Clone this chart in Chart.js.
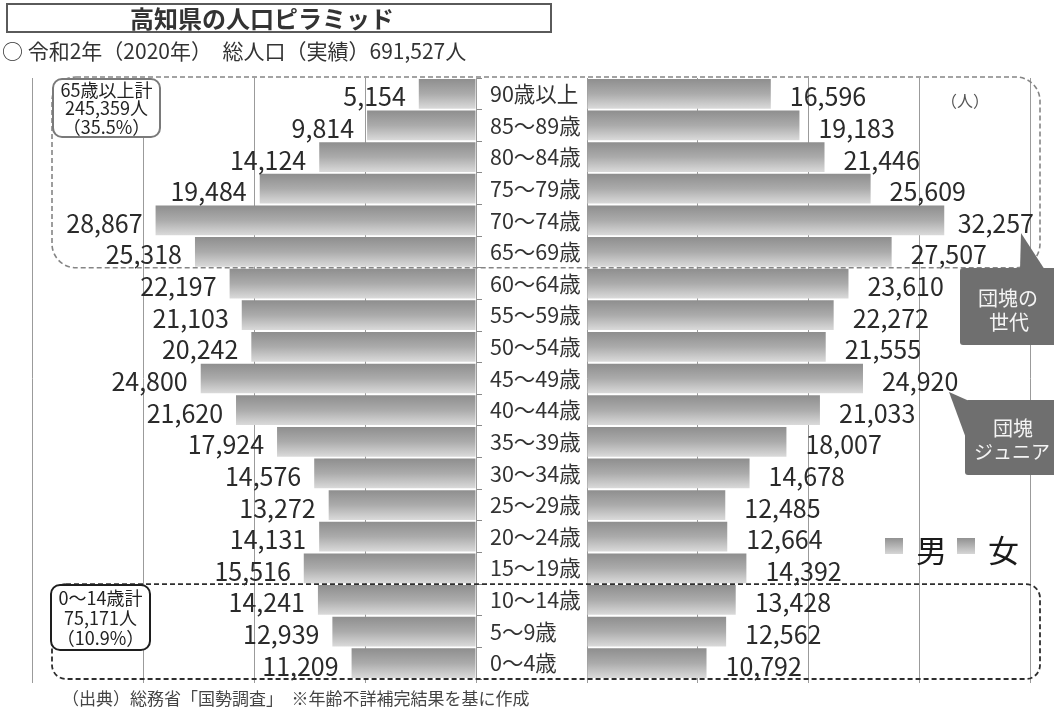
<!DOCTYPE html>
<html lang="ja">
<head>
<meta charset="utf-8">
<title>高知県の人口ピラミッド</title>
<script src="https://cdn.jsdelivr.net/npm/chart.js@4.4.1/dist/chart.umd.min.js"></script>
<style>
  html, body { margin: 0; padding: 0; background: #fff; }
  #page { position: relative; width: 1054px; height: 710px; overflow: hidden;
          font-family: "Noto Sans CJK JP", sans-serif; color: #333; }
  #page canvas { position: absolute; left: 0; top: 0; }
  #title { position: absolute; left: 6px; top: 3px; width: 542px; height: 26px;
           border: 2px solid #5a5a5a; background: #fff; }
  #title span { position: absolute; left: 122px; top: -2px; line-height: 30px;
                font-size: 24px; font-weight: bold; color: #333; white-space: nowrap; }
  #subtitle { position: absolute; left: 2px; top: 35px; line-height: 30px;
              font-size: 21px; color: #333; white-space: pre; }
  #source { position: absolute; left: 62px; top: 687px; line-height: 22px;
            font-size: 17px; color: #444; white-space: pre; }
</style>
</head>
<body>
<div id="page">
  <canvas id="maleChart" width="1054" height="710"></canvas>
  <canvas id="femaleChart" width="1054" height="710"></canvas>
  <div id="title"><span>高知県の人口ピラミッド</span></div>
  <div id="subtitle">○ 令和2年（2020年）　総人口（実績）691,527人</div>
  <div id="source">（出典）総務省「国勢調査」　※年齢不詳補完結果を基に作成</div>
</div>
<script>
// 年齢階級（上から下へ）
const ageGroups = ['90歳以上', '85～89歳', '80～84歳', '75～79歳', '70～74歳', '65～69歳',
  '60～64歳', '55～59歳', '50～54歳', '45～49歳', '40～44歳', '35～39歳', '30～34歳',
  '25～29歳', '20～24歳', '15～19歳', '10～14歳', '5～9歳', '0～4歳'];

// 男女別人口（人）
const malePop = [5154, 9814, 14124, 19484, 28867, 25318, 22197, 21103, 20242, 24800,
  21620, 17924, 14576, 13272, 14131, 15516, 14241, 12939, 11209];
const femalePop = [16596, 19183, 21446, 25609, 32257, 27507, 23610, 22272, 21555, 24920,
  21033, 18007, 14678, 12485, 12664, 14392, 13428, 12562, 10792];

const seriesNames = ['男', '女'];
const axisMax = 40000;
const axisStep = 10000;
const unitLabel = '（人）';

// 囲み注記のテキスト
const elderlyNote = ['65歳以上計', '245,359人', '（35.5%）'];
const childNote = ['0～14歳計', '75,171人', '（10.9%）'];
const boomerNote = ['団塊の', '世代'];
const boomerJrNote = ['団塊', 'ジュニア'];

const FONT = '"Noto Sans CJK JP", sans-serif';
const GRID = '#9b9b9b';
const BAR_PCT = 0.94;

// 棒の縦グラデーション
function barFill(context) {
  const chart = context.chart;
  const ys = chart.scales.y;
  if (!ys || context.dataIndex === undefined) return '#adadad';
  const c = ys.getPixelForValue(context.dataIndex);
  const half = Math.abs(ys.getPixelForValue(1) - ys.getPixelForValue(0)) * BAR_PCT / 2;
  if (!isFinite(c) || !isFinite(half) || half === 0) return '#adadad';
  const g = chart.ctx.createLinearGradient(0, c - half, 0, c + half);
  g.addColorStop(0, '#8e8e8e');
  g.addColorStop(0.5, '#ababab');
  g.addColorStop(1, '#dadada');
  return g;
}

function roundRectPath(ctx, x, y, w, h, r) {
  ctx.beginPath();
  ctx.moveTo(x + r, y);
  ctx.lineTo(x + w - r, y);
  ctx.arcTo(x + w, y, x + w, y + r, r);
  ctx.lineTo(x + w, y + h - r);
  ctx.arcTo(x + w, y + h, x + w - r, y + h, r);
  ctx.lineTo(x + r, y + h);
  ctx.arcTo(x, y + h, x, y + h - r, r);
  ctx.lineTo(x, y + r);
  ctx.arcTo(x, y, x + r, y, r);
  ctx.closePath();
}

// 棒の先に人数を表示
const valueLabels = {
  id: 'valueLabels',
  afterDatasetsDraw(chart, args, opts) {
    const { ctx } = chart;
    const xs = chart.scales.x, ys = chart.scales.y;
    const values = chart.data.datasets[0].data;
    ctx.save();
    ctx.font = '25px ' + FONT;
    ctx.fillStyle = '#2a2a2a';
    ctx.textBaseline = 'middle';
    values.forEach((v, i) => {
      const end = xs.getPixelForValue(v);
      const y = ys.getPixelForValue(i) + 3;
      const text = v.toLocaleString('en-US');
      if (opts.side === 'left') {
        ctx.textAlign = 'right';
        ctx.fillText(text, end - opts.gap, y);
      } else {
        const w = ctx.measureText(text).width;
        let x = end + opts.gap;
        if (x + w > opts.maxRight) x = opts.maxRight - w;
        ctx.textAlign = 'left';
        ctx.fillText(text, x, y);
      }
    });
    ctx.restore();
  }
};

// 囲み・吹き出し・凡例
const notes = {
  id: 'notes',
  afterDraw(chart) {
    const { ctx } = chart;
    const ys = chart.scales.y;
    const rowH = ys.getPixelForValue(1) - ys.getPixelForValue(0);
    const rowTop = i => ys.getPixelForValue(i) - rowH / 2;
    const top65 = rowTop(0) - 1;
    const bot65 = rowTop(6);
    const top14 = rowTop(16);
    const bot14 = rowTop(18) + rowH;
    ctx.save();

    // 65歳以上の破線枠
    ctx.setLineDash([5, 3]);
    ctx.lineWidth = 1.6;
    ctx.strokeStyle = '#858585';
    roundRectPath(ctx, 52, top65, 988, bot65 - top65, 24);
    ctx.stroke();

    // 0～14歳の破線枠
    ctx.strokeStyle = '#2e2e2e';
    ctx.lineWidth = 1.8;
    roundRectPath(ctx, 52, top14, 988, bot14 - top14, 14);
    ctx.stroke();
    ctx.setLineDash([]);

    // 集計ボックス
    const noteBox = (x, y, w, h, stroke, lines, cy, step) => {
      roundRectPath(ctx, x, y, w, h, 9);
      ctx.fillStyle = '#fff';
      ctx.fill();
      ctx.lineWidth = 2;
      ctx.strokeStyle = stroke;
      ctx.stroke();
      ctx.fillStyle = '#222';
      ctx.font = '18px ' + FONT;
      ctx.textAlign = 'center';
      ctx.textBaseline = 'middle';
      lines.forEach((t, k) => ctx.fillText(t, x + w / 2, cy + k * step));
    };
    noteBox(53, 79, 107, 58, '#7a7a7a', elderlyNote, 90, 18.5);
    noteBox(51, 585, 99, 65, '#1e1e1e', childNote, 598, 20);

    // 単位
    ctx.fillStyle = '#fff';
    ctx.fillRect(938, 88, 54, 26);
    ctx.fillStyle = '#555';
    ctx.font = '16px ' + FONT;
    ctx.textAlign = 'center';
    ctx.fillText(unitLabel, 965, 101);

    // 吹き出し
    ctx.fillStyle = '#6f6f6f';
    roundRectPath(ctx, 960, 268, 110, 77, 3);
    ctx.fill();
    ctx.beginPath();
    ctx.moveTo(1020, 270); ctx.lineTo(1021, 233); ctx.lineTo(1045, 270); ctx.closePath();
    ctx.fill();

    roundRectPath(ctx, 965, 400, 110, 75, 3);
    ctx.fill();
    ctx.beginPath();
    ctx.moveTo(967, 400); ctx.lineTo(949, 392); ctx.lineTo(967, 441); ctx.closePath();
    ctx.fill();

    ctx.fillStyle = '#f4f4f4';
    ctx.font = '20px ' + FONT;
    ctx.fillText(boomerNote[0], 1008, 298);
    ctx.fillText(boomerNote[1], 1009, 322);
    ctx.fillText(boomerJrNote[0], 1013, 428);
    ctx.font = '19px ' + FONT;
    ctx.fillText(boomerJrNote[1], 1012, 452);

    // 凡例
    const swatch = (x, y) => {
      const g = ctx.createLinearGradient(0, y, 0, y + 16);
      g.addColorStop(0, '#919191');
      g.addColorStop(1, '#d6d6d6');
      ctx.fillStyle = g;
      ctx.fillRect(x, y, 18, 16);
    };
    swatch(885, 538);
    swatch(957, 538);
    ctx.fillStyle = '#1a1a1a';
    ctx.font = '31px ' + FONT;
    ctx.textAlign = 'left';
    ctx.fillText(seriesNames[0], 916, 550);
    ctx.fillText(seriesNames[1], 988, 550);

    ctx.restore();
  }
};

Chart.defaults.font.family = FONT;
Chart.defaults.animation = false;

const gridX = {
  color: GRID,
  lineWidth: 1,
  tickLength: 4,
  tickColor: GRID
};

// 男性（左側、反転軸）
new Chart(document.getElementById('maleChart'), {
  type: 'bar',
  data: {
    labels: ageGroups,
    datasets: [{
      label: seriesNames[0],
      data: malePop,
      backgroundColor: barFill,
      borderWidth: 0,
      barPercentage: BAR_PCT,
      categoryPercentage: 1
    }]
  },
  options: {
    responsive: false,
    indexAxis: 'y',
    layout: { padding: { left: 32, right: 1054 - 476 - 6, top: 78, bottom: 27 } },
    plugins: {
      legend: { display: false },
      tooltip: { enabled: false },
      valueLabels: { side: 'left', gap: 13 }
    },
    scales: {
      x: {
        reverse: true,
        min: 0, max: axisMax,
        ticks: { stepSize: axisStep, display: false },
        grid: gridX,
        border: { display: false }
      },
      y: {
        position: 'right',
        ticks: { display: false },
        grid: { drawOnChartArea: false, tickLength: 6, color: '#8a8a8a', offset: true },
        border: { display: true, color: '#9b9b9b' },
        afterFit(scale) { scale.width = 6; }
      }
    }
  },
  plugins: [valueLabels]
});

// 女性（右側）と中央の年齢ラベル
new Chart(document.getElementById('femaleChart'), {
  type: 'bar',
  data: {
    labels: ageGroups,
    datasets: [{
      label: seriesNames[1],
      data: femalePop,
      backgroundColor: barFill,
      borderWidth: 0,
      barPercentage: BAR_PCT,
      categoryPercentage: 1
    }]
  },
  options: {
    responsive: false,
    indexAxis: 'y',
    layout: { padding: { left: 490, right: 24, top: 78, bottom: 27 } },
    plugins: {
      legend: { display: false },
      tooltip: { enabled: false },
      valueLabels: { side: 'right', gap: 19, maxRight: 1034 }
    },
    scales: {
      x: {
        min: 0, max: axisMax,
        ticks: { stepSize: axisStep, display: false },
        grid: gridX,
        border: { display: false }
      },
      y: {
        position: 'left',
        ticks: {
          crossAlign: 'far',
          color: '#333',
          font: { size: 21.5, family: FONT }
        },
        grid: { display: false },
        border: { display: false },
        afterFit(scale) { scale.width = 97; }
      }
    }
  },
  plugins: [valueLabels, notes]
});
</script>
</body>
</html>
